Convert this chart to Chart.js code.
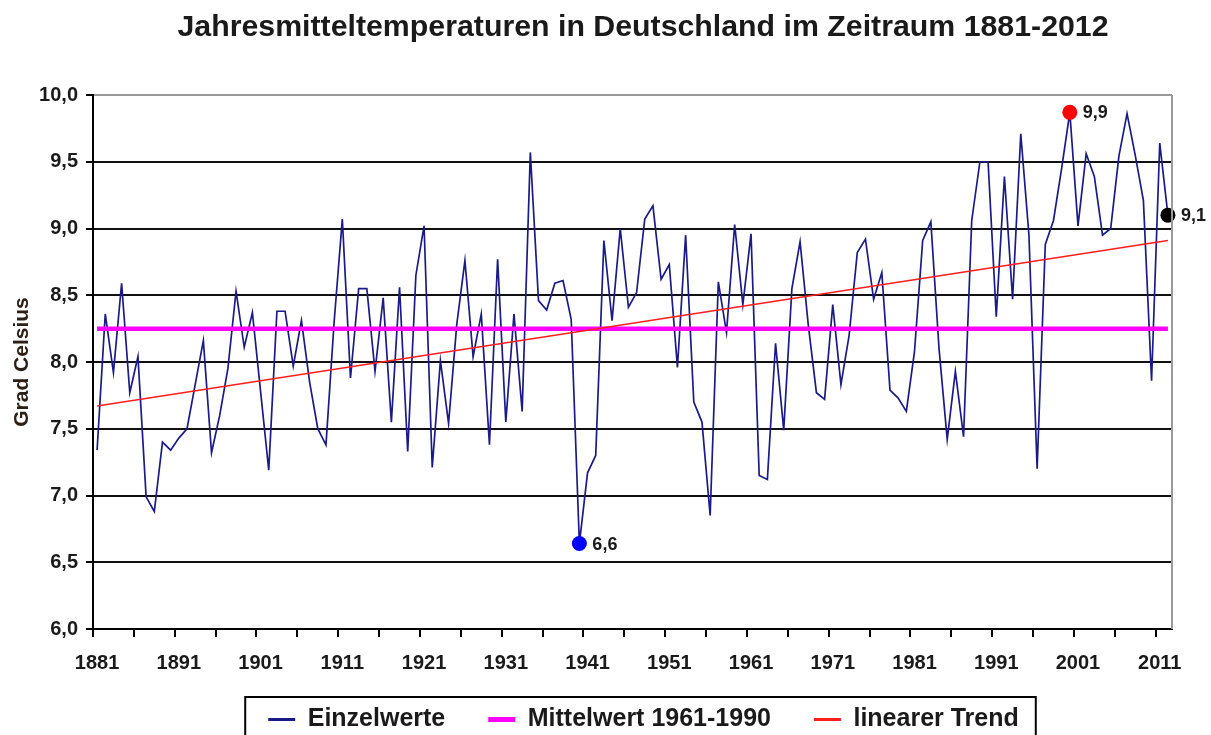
<!DOCTYPE html>
<html>
<head>
<meta charset="utf-8">
<script src="https://cdn.jsdelivr.net/npm/chart.js@4"></script>
<style>
html,body{margin:0;padding:0;background:#fff;overflow:hidden;}
#wrap{position:relative;width:1211px;height:775px;}
#title{position:absolute;top:11px;left:643px;transform:translateX(-50%);white-space:nowrap;
  font:bold 30.3px "Liberation Sans",Arial,sans-serif;line-height:30px;color:#1a1a1a;}
</style>
</head>
<body>
<div id="wrap">
  <canvas id="c" width="1211" height="775"></canvas>
  <div id="title">Jahresmitteltemperaturen in Deutschland im Zeitraum 1881-2012</div>
</div>
<script>
// ---- Data ----
const years = [
  1881,1882,1883,1884,1885,1886,1887,1888,1889,1890,
  1891,1892,1893,1894,1895,1896,1897,1898,1899,1900,
  1901,1902,1903,1904,1905,1906,1907,1908,1909,1910,
  1911,1912,1913,1914,1915,1916,1917,1918,1919,1920,
  1921,1922,1923,1924,1925,1926,1927,1928,1929,1930,
  1931,1932,1933,1934,1935,1936,1937,1938,1939,1940,
  1941,1942,1943,1944,1945,1946,1947,1948,1949,1950,
  1951,1952,1953,1954,1955,1956,1957,1958,1959,1960,
  1961,1962,1963,1964,1965,1966,1967,1968,1969,1970,
  1971,1972,1973,1974,1975,1976,1977,1978,1979,1980,
  1981,1982,1983,1984,1985,1986,1987,1988,1989,1990,
  1991,1992,1993,1994,1995,1996,1997,1998,1999,2000,
  2001,2002,2003,2004,2005,2006,2007,2008,2009,2010,
  2011,2012
];
const temps = [
  7.34, 8.36, 7.92, 8.59, 7.77, 8.04, 6.99, 6.88, 7.40, 7.34,
  7.43, 7.50, 7.83, 8.16, 7.32, 7.60, 7.95, 8.53, 8.11, 8.37,
  7.78, 7.19, 8.38, 8.38, 7.97, 8.31, 7.85, 7.50, 7.38, 8.30,
  9.07, 7.88, 8.55, 8.55, 7.93, 8.48, 7.55, 8.56, 7.33, 8.65,
  9.02, 7.21, 8.01, 7.54, 8.28, 8.76, 8.04, 8.36, 7.38, 8.77,
  7.55, 8.36, 7.63, 9.57, 8.46, 8.39, 8.59, 8.61, 8.32, 6.64,
  7.17, 7.30, 8.91, 8.31, 9.00, 8.41, 8.52, 9.07, 9.17, 8.62,
  8.73, 7.96, 8.95, 7.70, 7.55, 6.85, 8.60, 8.22, 9.03, 8.43,
  8.96, 7.15, 7.12, 8.14, 7.49, 8.55, 8.90, 8.28, 7.77, 7.72,
  8.43, 7.83, 8.20, 8.82, 8.92, 8.47, 8.67, 7.79, 7.73, 7.63,
  8.08, 8.91, 9.05, 8.10, 7.42, 7.93, 7.44, 9.06, 9.50, 9.50,
  8.34, 9.39, 8.47, 9.71, 8.95, 7.20, 8.88, 9.06, 9.45, 9.87,
  9.02, 9.56, 9.39, 8.95, 9.00, 9.54, 9.86, 9.55, 9.21, 7.86,
  9.64, 9.10
];
const meanYears = ['1881', '2012'];
const meanValues = [8.25, 8.25];
const trendYears = ['1881', '2012'];
const trendValues = [7.67, 8.91];
const markedYears = [1940, 2000, 2012];
const markedColors = ['#0000ff', '#ff0000', '#000000'];
const yTickMin = 6.0, yTickMax = 10.0, yTickStep = 0.5;
const seriesNames = ['Einzelwerte', 'Mittelwert 1961-1990', 'linearer Trend'];

// ---- Chart ----
const FONT = '"Liberation Sans", Arial, sans-serif';
Chart.defaults.font.family = FONT;
const TXT = '#1a1a1a';
const labels = years.map(String);
const legendLineWidths = [3, 5, 3];

const markIdx = (i) => markedYears.indexOf(years[i]);

// move the legend up/right into the band under the axis labels
const legendShift = {
  id: 'legendShift',
  afterLayout(chart) {
    const lg = chart.legend;
    lg.top -= 33; lg.bottom -= 33;
    lg.left += 11; lg.right += 11;
  }
};

const frame = {
  id: 'frame',
  afterDraw(chart) {
    const ctx = chart.ctx, a = chart.chartArea;
    ctx.save();
    ctx.strokeStyle = '#9a9a9a';
    ctx.lineWidth = 2;
    ctx.beginPath();
    ctx.moveTo(a.right, a.top);
    ctx.lineTo(a.right, a.bottom);
    ctx.stroke();
    // legend border
    const hb = chart.legend.legendHitBoxes;
    if (hb && hb.length) {
      const l = hb[0].left - 23;
      const last = hb[hb.length - 1];
      const r = last.left + last.width + 17;
      const t = hb[0].top - 10;
      ctx.strokeStyle = '#000';
      ctx.lineWidth = 2;
      ctx.strokeRect(l, t, r - l, 80);
    }
    ctx.restore();
  }
};

const markLabels = {
  id: 'markLabels',
  afterDatasetsDraw(chart) {
    const ctx = chart.ctx;
    const meta = chart.getDatasetMeta(0);
    ctx.save();
    ctx.font = 'bold 18px ' + FONT;
    ctx.fillStyle = TXT;
    ctx.textBaseline = 'middle';
    ctx.textAlign = 'left';
    markedYears.forEach((yr) => {
      const i = years.indexOf(yr);
      const p = meta.data[i];
      if (!p) return;
      ctx.fillText(temps[i].toFixed(1).replace('.', ','), p.x + 13, p.y + 1);
    });
    ctx.restore();
  }
};

new Chart(document.getElementById('c'), {
  type: 'line',
  data: {
    labels: labels,
    datasets: [
      {
        label: seriesNames[0],
        data: temps,
        borderColor: '#1b1b87',
        backgroundColor: '#1b1b87',
        borderWidth: 1.7,
        tension: 0,
        order: 3,
        pointRadius: (c) => markIdx(c.dataIndex) >= 0 ? 7.5 : 0,
        pointBackgroundColor: (c) => markIdx(c.dataIndex) >= 0 ? markedColors[markIdx(c.dataIndex)] : '#1b1b87',
        pointBorderWidth: 0,
        pointHoverRadius: 0
      },
      {
        label: seriesNames[1],
        data: meanYears.map((x, i) => ({ x: x, y: meanValues[i] })),
        borderColor: '#ff00ff',
        backgroundColor: '#ff00ff',
        borderWidth: 4.5,
        borderCapStyle: 'butt',
        pointRadius: 0,
        order: 2
      },
      {
        label: seriesNames[2],
        data: trendYears.map((x, i) => ({ x: x, y: trendValues[i] })),
        borderColor: '#ff1e1e',
        backgroundColor: '#ff1e1e',
        borderWidth: 1.5,
        pointRadius: 0,
        order: 1
      }
    ]
  },
  options: {
    responsive: false,
    animation: false,
    events: [],
    layout: { padding: { left: 10, right: 39, top: 95, bottom: 0 } },
    plugins: {
      title: { display: false },
      tooltip: { enabled: false },
      legend: {
        position: 'bottom',
        fullSize: false,
        labels: {
          usePointStyle: true,
          pointStyle: 'line',
          pointStyleWidth: 27,
          padding: 43,
          color: TXT,
          font: { size: 25, weight: 'bold' },
          sort: (a, b) => a.datasetIndex - b.datasetIndex,
          generateLabels: (chart) => {
            const items = Chart.defaults.plugins.legend.labels.generateLabels(chart);
            items.forEach((it) => { it.lineWidth = legendLineWidths[it.datasetIndex]; });
            return items;
          }
        }
      }
    },
    scales: {
      x: {
        type: 'category',
        offset: true,
        grid: {
          offset: true,
          drawOnChartArea: false,
          drawTicks: true,
          tickLength: 8,
          lineWidth: 2,
          color: (c) => (c.index % 5 === 0) ? '#000' : 'rgba(0,0,0,0)'
        },
        border: { display: true, color: '#000', width: 2 },
        ticks: {
          autoSkip: false,
          maxRotation: 0,
          minRotation: 0,
          padding: 14,
          color: TXT,
          font: { size: 20, weight: 'bold' },
          callback: function (v, i) { return i % 10 === 0 ? this.getLabelForValue(v) : ''; }
        },
        afterFit: (s) => { s.height = 68; }
      },
      y: {
        min: yTickMin,
        max: yTickMax,
        ticks: {
          stepSize: yTickStep,
          padding: 8,
          color: TXT,
          font: { size: 20, weight: 'bold' },
          callback: (v) => Number(v).toFixed(1).replace('.', ',')
        },
        grid: {
          color: (c) => (c.tick && c.tick.value === yTickMax) ? '#9a9a9a' : '#111',
          tickColor: '#000',
          lineWidth: 2,
          tickLength: 7
        },
        border: { display: true, color: '#000', width: 2 },
        title: {
          display: true,
          text: 'Grad Celsius',
          color: '#2a2018',
          font: { size: 21, weight: 'bold' },
          padding: { top: 0, bottom: 0 }
        },
        afterFit: (s) => { s.width = 83; }
      }
    }
  },
  plugins: [legendShift, frame, markLabels]
});
</script>
</body>
</html>
